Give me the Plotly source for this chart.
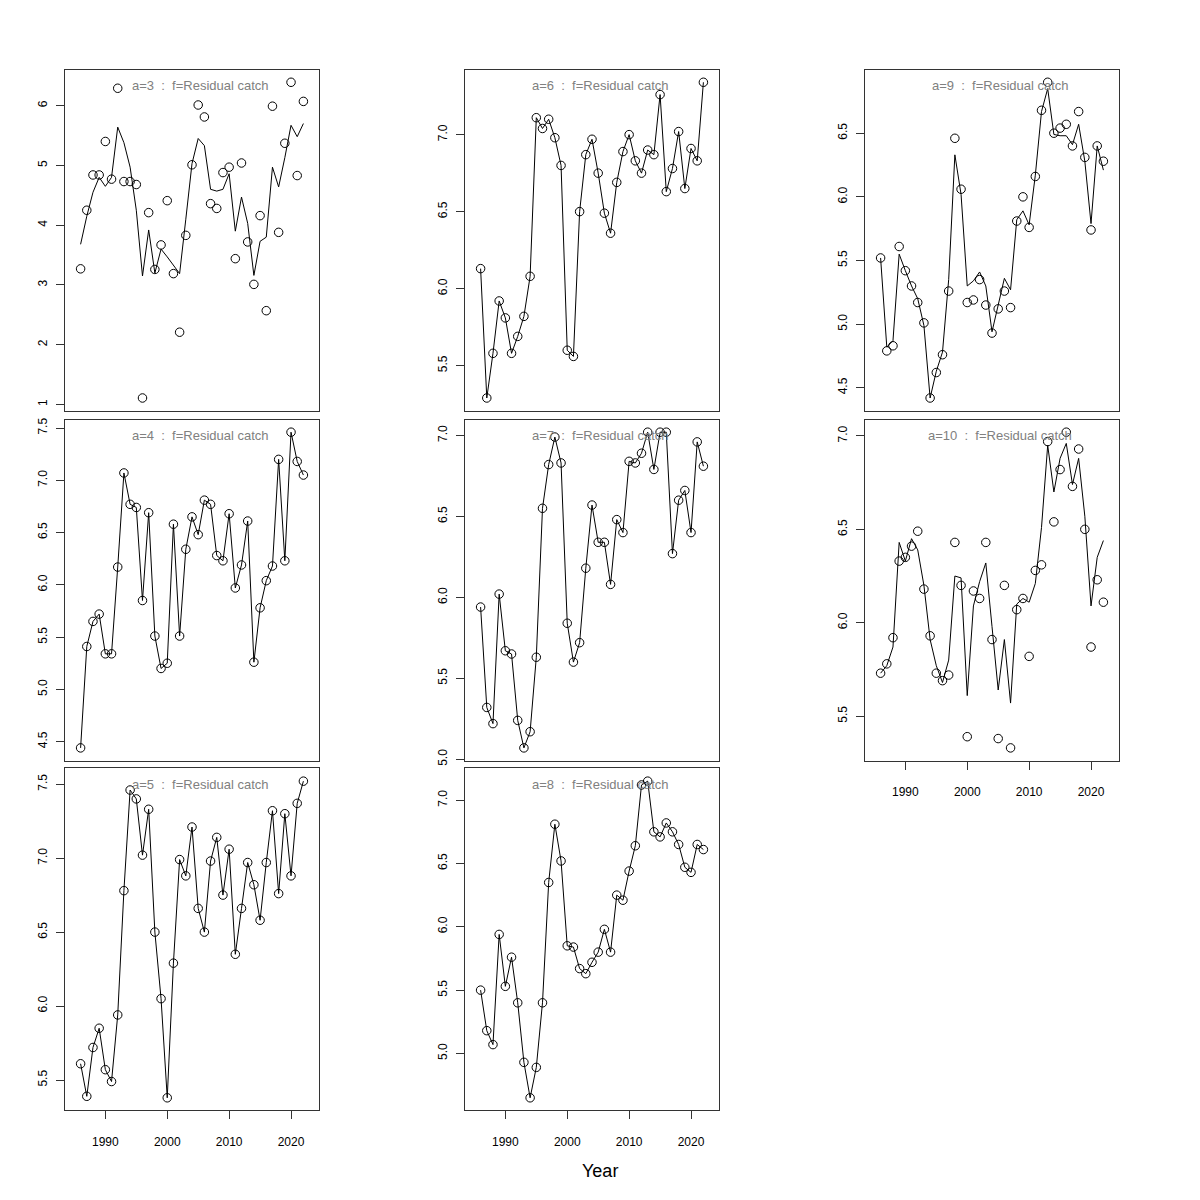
import plotly.graph_objects as go

years = list(range(1986, 2023))
year_limits = [1985, 2023]

obs_a3 = [3.27, 4.25, 4.84, 4.84, 5.40, 4.77, 6.29, 4.73, 4.73, 4.68, 1.11, 4.21, 3.26, 3.67, 4.41,
          3.19, 2.21, 3.83, 5.01, 6.01, 5.81, 4.36, 4.28, 4.88, 4.97, 3.44, 5.04, 3.72, 3.01, 4.16,
          2.57, 5.99, 3.88, 5.37, 6.39, 4.83, 6.07]
fit_a3 = [3.68, 4.15, 4.55, 4.80, 4.65, 4.80, 5.64, 5.38, 4.97, 4.25, 3.15, 3.92, 3.20, 3.60, 3.47,
          3.33, 3.19, 4.10, 5.03, 5.45, 5.33, 4.60, 4.57, 4.60, 4.86, 3.90, 4.47, 4.03, 3.16, 3.73,
          3.80, 4.97, 4.64, 5.13, 5.67, 5.48, 5.70]

obs_a4 = [4.44, 5.41, 5.65, 5.72, 5.34, 5.34, 6.17, 7.07, 6.77, 6.74, 5.85, 6.69, 5.51, 5.20, 5.25,
          6.58, 5.51, 6.34, 6.65, 6.48, 6.81, 6.77, 6.28, 6.23, 6.68, 5.97, 6.19, 6.61, 5.26, 5.78,
          6.04, 6.18, 7.20, 6.23, 7.46, 7.18, 7.05]

obs_a5 = [5.61, 5.39, 5.72, 5.85, 5.57, 5.49, 5.94, 6.78, 7.46, 7.40, 7.02, 7.33, 6.50, 6.05, 5.38,
          6.29, 6.99, 6.88, 7.21, 6.66, 6.50, 6.98, 7.14, 6.75, 7.06, 6.35, 6.66, 6.97, 6.82, 6.58,
          6.97, 7.32, 6.76, 7.30, 6.88, 7.37, 7.52]

obs_a6 = [6.13, 5.29, 5.58, 5.92, 5.81, 5.58, 5.69, 5.82, 6.08, 7.11, 7.04, 7.10, 6.98, 6.80, 5.60,
          5.56, 6.50, 6.87, 6.97, 6.75, 6.49, 6.36, 6.69, 6.89, 7.00, 6.83, 6.75, 6.90, 6.87, 7.26,
          6.63, 6.78, 7.02, 6.65, 6.91, 6.83, 7.34]

obs_a7 = [5.94, 5.32, 5.22, 6.02, 5.67, 5.65, 5.24, 5.07, 5.17, 5.63, 6.55, 6.82, 6.99, 6.83, 5.84,
          5.60, 5.72, 6.18, 6.57, 6.34, 6.34, 6.08, 6.48, 6.40, 6.84, 6.83, 6.89, 7.02, 6.79, 7.02,
          7.02, 6.27, 6.60, 6.66, 6.40, 6.96, 6.81]

obs_a8 = [5.50, 5.18, 5.07, 5.94, 5.53, 5.76, 5.40, 4.93, 4.65, 4.89, 5.40, 6.35, 6.81, 6.52, 5.85,
          5.84, 5.67, 5.63, 5.72, 5.80, 5.98, 5.80, 6.25, 6.21, 6.44, 6.64, 7.12, 7.15, 6.75, 6.71,
          6.82, 6.75, 6.65, 6.47, 6.43, 6.65, 6.61]

obs_a9 = [5.52, 4.79, 4.83, 5.61, 5.42, 5.30, 5.17, 5.01, 4.42, 4.62, 4.76, 5.26, 6.46, 6.06, 5.17,
          5.19, 5.35, 5.15, 4.93, 5.12, 5.26, 5.13, 5.81, 6.00, 5.76, 6.16, 6.68, 6.90, 6.50, 6.54,
          6.57, 6.40, 6.67, 6.31, 5.74, 6.40, 6.28]
fit_a9 = [5.52, 4.82, 4.87, 5.55, 5.42, 5.30, 5.20, 4.99, 4.42, 4.63, 4.78, 5.35, 6.33, 6.02, 5.30,
          5.34, 5.41, 5.30, 4.94, 5.14, 5.36, 5.27, 5.82, 5.89, 5.78, 6.17, 6.67, 6.85, 6.49, 6.48,
          6.48, 6.41, 6.57, 6.28, 5.79, 6.40, 6.21]

obs_a10 = [5.73, 5.78, 5.92, 6.33, 6.35, 6.41, 6.49, 6.18, 5.93, 5.73, 5.69, 5.72, 6.43, 6.20, 5.39,
           6.17, 6.13, 6.43, 5.91, 5.38, 6.20, 5.33, 6.07, 6.13, 5.82, 6.28, 6.31, 6.97, 6.54, 6.82,
           7.02, 6.73, 6.93, 6.50, 5.87, 6.23, 6.11]
fit_a10 = [5.73, 5.77, 5.87, 6.43, 6.33, 6.45, 6.39, 6.20, 5.91, 5.77, 5.68, 5.80, 6.25, 6.24, 5.61,
           6.09, 6.22, 6.32, 5.98, 5.64, 5.91, 5.57, 6.10, 6.13, 6.11, 6.21, 6.51, 6.95, 6.70, 6.88,
           6.96, 6.74, 6.88, 6.57, 6.09, 6.35, 6.44]

ages = ["a=3", "a=4", "a=5", "a=6", "a=7", "a=8", "a=9", "a=10"]
fleet = "f=Residual catch"
xtick_vals = [1990, 2000, 2010, 2020]
xtick_text = ["1990", "2000", "2010", "2020"]

# page has an 8px body margin; figure sized so the page fits the 1200px window
OFF = 8
W, H = 1184, 1184
col_px = [(65, 319), (465, 719), (865, 1119)]
row_px = [(68, 411), (420, 763), (771, 1115)]


def px_x(p):
    return (p - OFF) / W


def px_y(p):
    return 1 - (p - OFF) / H


# (label, observed, fitted, col, row, show x axis, y ticks, y tick format)
panels = [
    (ages[0], obs_a3, fit_a3, 0, 0, False, [1, 2, 3, 4, 5, 6], "d"),
    (ages[1], obs_a4, obs_a4, 0, 1, False, [4.5, 5.0, 5.5, 6.0, 6.5, 7.0, 7.5], ".1f"),
    (ages[2], obs_a5, obs_a5, 0, 2, True, [5.5, 6.0, 6.5, 7.0, 7.5], ".1f"),
    (ages[3], obs_a6, obs_a6, 1, 0, False, [5.5, 6.0, 6.5, 7.0], ".1f"),
    (ages[4], obs_a7, obs_a7, 1, 1, False, [5.0, 5.5, 6.0, 6.5, 7.0], ".1f"),
    (ages[5], obs_a8, obs_a8, 1, 2, True, [5.0, 5.5, 6.0, 6.5, 7.0], ".1f"),
    (ages[6], obs_a9, fit_a9, 2, 0, False, [4.5, 5.0, 5.5, 6.0, 6.5], ".1f"),
    (ages[7], obs_a10, fit_a10, 2, 1, True, [5.5, 6.0, 6.5, 7.0], ".1f"),
]


def r_range(vals):
    lo, hi = min(vals), max(vals)
    pad = 0.04 * (hi - lo)
    return [lo - pad, hi + pad]


FAM = "Liberation Sans, Arial, sans-serif"
font = dict(family=FAM, size=12, color="black")
fig = go.Figure()
layout = dict(width=W, height=H, margin=dict(l=0, r=0, t=0, b=0),
              paper_bgcolor="white", plot_bgcolor="white", showlegend=False, font=font)
annotations = []

for k, (lab, obs, fit, c, r, showx, yt, yfmt) in enumerate(panels, start=1):
    sfx = "" if k == 1 else str(k)
    xa, ya = "x" + sfx, "y" + sfx
    fig.add_trace(go.Scatter(x=years, y=fit, mode="lines", line=dict(color="black", width=1),
                             xaxis=xa, yaxis=ya, hoverinfo="skip"))
    fig.add_trace(go.Scatter(x=years, y=obs, mode="markers",
                             marker=dict(symbol="circle-open", size=8.5, color="black",
                                         line=dict(width=1, color="black")),
                             xaxis=xa, yaxis=ya))
    x0, x1 = col_px[c]
    y0, y1 = row_px[r]
    layout["xaxis" + sfx] = dict(
        domain=[px_x(x0), px_x(x1)], range=r_range(year_limits), anchor=ya,
        showline=True, mirror=True, linecolor="#333333", linewidth=1,
        showgrid=False, zeroline=False,
        ticks="outside" if showx else "", ticklen=8, tickcolor="#333333",
        showticklabels=showx, tickvals=xtick_vals, ticktext=xtick_text,
        tickfont=font, ticklabelstandoff=12)
    layout["yaxis" + sfx] = dict(
        domain=[px_y(y1), px_y(y0)], range=r_range(obs + fit), anchor=xa,
        showline=True, mirror=True, linecolor="#333333", linewidth=1,
        showgrid=False, zeroline=False,
        ticks="outside", ticklen=8, tickcolor="#333333",
        tickvals=yt, tickformat=yfmt, tickangle=-90, tickfont=font,
        ticklabelstandoff=4)
    annotations.append(dict(
        text=lab + "\u00a0\u00a0:\u00a0\u00a0" + fleet, xref="paper", yref="paper",
        x=px_x((x0 + x1) / 2 + 8), y=px_y(y0 + 16), xanchor="center", yanchor="middle",
        showarrow=False, font=dict(family=FAM, size=13, color="#808080")))

annotations.append(dict(text="Year", xref="paper", yref="paper", x=px_x(600), y=px_y(1176),
                        xanchor="center", yanchor="middle", showarrow=False,
                        font=dict(family=FAM, size=18, color="black")))
layout["annotations"] = annotations
fig.update_layout(**layout)
fig.write_html("out.html")
